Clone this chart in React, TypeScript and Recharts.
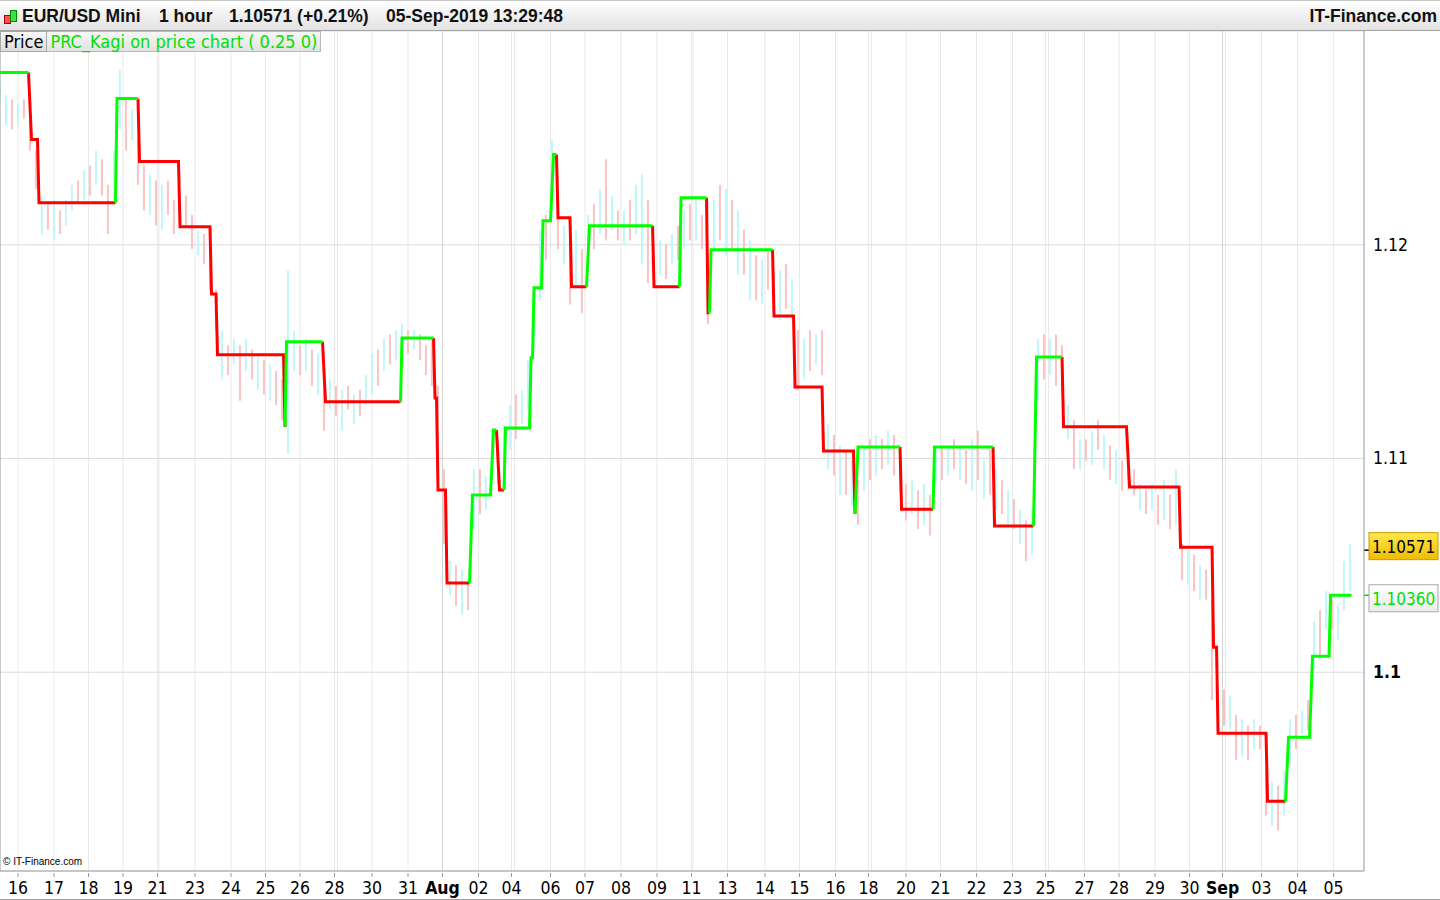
import React from 'react'
import { ComposedChart, Bar, Line, XAxis, YAxis, CartesianGrid, ReferenceLine } from 'recharts'

// EUR/USD Mini, 1 hour bars. x = hour index from the left edge of the plot.
const FONT = '"DejaVu Sans Condensed", "DejaVu Sans", sans-serif'
const HEAD_FONT = '"Liberation Sans", Arial, sans-serif'

// Kagi horizontal runs: first bar, last bar, level, rising (1 = green / yang)
const kagiStart = [0, 21, 26, 78, 93, 120, 141, 145, 190, 191, 217, 268, 290, 292, 298, 315, 329, 333, 337, 354, 356, 362, 369, 372, 381, 393, 436, 454, 472, 474, 516, 530, 549, 570, 572, 601, 623, 663, 691, 709, 753, 787, 809, 812, 845, 859, 875, 887]
const kagiEnd = [19, 25, 77, 92, 119, 140, 144, 189, 190, 215, 267, 289, 291, 297, 313, 327, 331, 336, 353, 355, 361, 367, 371, 380, 391, 435, 453, 471, 473, 515, 529, 548, 569, 570, 600, 622, 662, 689, 708, 751, 786, 808, 811, 844, 857, 873, 886, 901]
const kagiLevel = [1.12806, 1.12492, 1.12197, 1.12684, 1.12389, 1.12084, 1.1177, 1.11485, 1.11148, 1.11546, 1.11265, 1.11564, 1.11283, 1.10852, 1.10417, 1.10829, 1.11133, 1.10852, 1.11143, 1.11471, 1.11799, 1.12112, 1.12422, 1.12126, 1.11803, 1.12089, 1.11803, 1.1222, 1.11682, 1.11977, 1.11667, 1.11335, 1.11035, 1.1074, 1.11054, 1.10763, 1.11054, 1.10684, 1.11475, 1.11148, 1.10867, 1.10585, 1.10117, 1.09714, 1.09396, 1.09696, 1.10075, 1.1036]
const kagiUp = [1, 0, 0, 1, 0, 0, 0, 0, 0, 1, 0, 1, 0, 0, 0, 1, 1, 0, 1, 1, 1, 1, 1, 0, 0, 1, 0, 1, 0, 1, 0, 0, 0, 0, 1, 0, 1, 0, 1, 0, 0, 0, 0, 0, 0, 1, 1, 1]

// background price bars, one per 4 hours: high, low, direction (1 = up)
const CANDLE_STEP = 4
const candleHigh = [
  1.1277, 1.127, 1.1268, 1.1266, 1.1268, 1.1259, 1.1244, 1.1223, 1.1219, 1.1221, 1.1216, 1.1221, 1.1228, 1.123, 1.1235, 1.1237, 1.1244, 1.124, 1.1228, 1.1244,
  1.1282, 1.1268, 1.1263, 1.1249, 1.1237, 1.1233, 1.123, 1.1228, 1.123, 1.1221, 1.1221, 1.1223, 1.1214, 1.1207, 1.1205, 1.1198, 1.1179, 1.116, 1.1153, 1.1156,
  1.1153, 1.1156, 1.1151, 1.1149, 1.1146, 1.1144, 1.1141, 1.1137, 1.1188, 1.116, 1.1153, 1.1156, 1.1151, 1.1149, 1.1146, 1.1137, 1.1134, 1.1132, 1.1134, 1.113,
  1.1132, 1.1139, 1.1149, 1.1151, 1.1156, 1.1158, 1.116, 1.1163, 1.116, 1.116, 1.1158, 1.1153, 1.1156, 1.1134, 1.1095, 1.1052, 1.105, 1.1048, 1.1043, 1.1095,
  1.1095, 1.1092, 1.1113, 1.1109, 1.1116, 1.1125, 1.113, 1.1132, 1.1146, 1.1179, 1.1207, 1.1214, 1.1249, 1.1216, 1.1209, 1.1202, 1.1207, 1.1198, 1.1214, 1.1219,
  1.1226, 1.124, 1.1223, 1.1216, 1.1216, 1.1221, 1.1228, 1.1233, 1.1221, 1.12, 1.1202, 1.12, 1.1205, 1.1209, 1.1216, 1.1219, 1.1221, 1.1214, 1.1193, 1.1221,
  1.1228, 1.1226, 1.1221, 1.1216, 1.1207, 1.1202, 1.1195, 1.1193, 1.1198, 1.1188, 1.1188, 1.1191, 1.1184, 1.116, 1.1156, 1.116, 1.1158, 1.116, 1.1116, 1.1111,
  1.1106, 1.1104, 1.1099, 1.109, 1.1106, 1.1109, 1.1111, 1.1109, 1.1113, 1.1111, 1.1104, 1.1088, 1.109, 1.1085, 1.1088, 1.1083, 1.1104, 1.1106, 1.1104, 1.1109,
  1.1106, 1.1104, 1.1109, 1.1113, 1.1099, 1.1104, 1.1095, 1.109, 1.1085, 1.1081, 1.1076, 1.1071, 1.1076, 1.1156, 1.1158, 1.1156, 1.1158, 1.1153, 1.1125, 1.1118,
  1.1109, 1.1109, 1.1113, 1.1118, 1.1111, 1.1106, 1.1104, 1.1099, 1.1099, 1.1095, 1.1088, 1.1085, 1.1088, 1.1083, 1.109, 1.1083, 1.1095, 1.106, 1.1057, 1.1055,
  1.105, 1.1048, 1.1034, 1.0994, 1.0992, 1.0989, 1.098, 1.0978, 1.0975, 1.0978, 1.0975, 1.0954, 1.0949, 1.0947, 1.0954, 1.0978, 1.098, 1.0982, 1.0987, 1.1024,
  1.1029, 1.1038, 1.1034, 1.1031, 1.1052, 1.106,
]
const candleLow = [
  1.1266, 1.1256, 1.1254, 1.1256, 1.1259, 1.1244, 1.1226, 1.1205, 1.1207, 1.1202, 1.1205, 1.1209, 1.1216, 1.1219, 1.1221, 1.1223, 1.1228, 1.1223, 1.1205, 1.1221,
  1.1254, 1.1244, 1.1249, 1.1228, 1.1216, 1.1214, 1.1209, 1.1207, 1.1214, 1.1205, 1.1207, 1.1209, 1.1198, 1.1195, 1.1191, 1.1179, 1.116, 1.1137, 1.1139, 1.1144,
  1.1127, 1.1141, 1.1137, 1.1132, 1.113, 1.1127, 1.1125, 1.1118, 1.1102, 1.1141, 1.1139, 1.1141, 1.1134, 1.113, 1.1113, 1.1123, 1.112, 1.1113, 1.1123, 1.1116,
  1.112, 1.1125, 1.113, 1.1134, 1.1141, 1.1144, 1.1146, 1.1151, 1.1149, 1.1151, 1.1146, 1.1139, 1.1134, 1.1095, 1.106, 1.1036, 1.1031, 1.1027, 1.1029, 1.1067,
  1.1074, 1.1076, 1.109, 1.1088, 1.1097, 1.1104, 1.1109, 1.1116, 1.1123, 1.1151, 1.1174, 1.1193, 1.123, 1.1198, 1.1191, 1.1172, 1.1179, 1.1168, 1.1198, 1.1198,
  1.1205, 1.1202, 1.1207, 1.1202, 1.12, 1.1202, 1.1205, 1.1191, 1.1182, 1.1184, 1.1186, 1.1184, 1.1191, 1.1193, 1.1198, 1.1202, 1.1202, 1.1198, 1.1163, 1.1198,
  1.1202, 1.1195, 1.1198, 1.1186, 1.1186, 1.1174, 1.1174, 1.1172, 1.1179, 1.1167, 1.1165, 1.117, 1.1165, 1.1132, 1.1137, 1.1141, 1.1144, 1.1139, 1.1095, 1.1092,
  1.1083, 1.1083, 1.1078, 1.1069, 1.1085, 1.109, 1.1092, 1.1095, 1.1097, 1.1092, 1.1085, 1.1071, 1.1074, 1.1067, 1.1069, 1.1064, 1.1088, 1.109, 1.1092, 1.1095,
  1.109, 1.1088, 1.1085, 1.109, 1.1081, 1.1083, 1.1076, 1.1074, 1.1069, 1.1067, 1.106, 1.1052, 1.1055, 1.1127, 1.1137, 1.1139, 1.1134, 1.113, 1.1109, 1.1095,
  1.1095, 1.1099, 1.1097, 1.1104, 1.1095, 1.109, 1.1088, 1.1085, 1.1085, 1.1083, 1.1076, 1.1074, 1.1076, 1.1069, 1.1071, 1.1067, 1.1069, 1.1043, 1.1041, 1.1038,
  1.1034, 1.1034, 1.0987, 1.0973, 1.0975, 1.0973, 1.0959, 1.0961, 1.0959, 1.0964, 1.0964, 1.0933, 1.0928, 1.0926, 1.0933, 1.0957, 1.0964, 1.0971, 1.0973, 1.1001,
  1.1006, 1.102, 1.102, 1.1015, 1.1029, 1.1038,
]
const candleUp = [
  1, 1, 0, 1, 0, 0, 0, 1, 0, 1, 0, 1, 1, 0, 1, 0, 1, 0, 0, 1,
  1, 0, 1, 0, 0, 1, 0, 1, 0, 0, 1, 0, 0, 1, 0, 0, 0, 1, 0, 1,
  0, 1, 0, 1, 0, 1, 0, 0, 1, 1, 0, 1, 0, 1, 0, 1, 0, 1, 0, 1,
  0, 1, 1, 0, 1, 0, 1, 1, 0, 1, 0, 0, 0, 0, 0, 1, 0, 1, 0, 1,
  0, 1, 1, 0, 1, 1, 0, 1, 1, 1, 1, 0, 1, 0, 1, 0, 1, 0, 1, 0,
  1, 0, 1, 0, 1, 0, 1, 1, 0, 0, 1, 0, 1, 0, 1, 0, 1, 0, 0, 1,
  0, 1, 0, 1, 0, 1, 0, 1, 0, 0, 1, 0, 1, 0, 1, 0, 1, 0, 1, 0,
  1, 0, 1, 0, 1, 0, 1, 0, 1, 0, 1, 0, 1, 0, 1, 0, 1, 0, 1, 0,
  1, 0, 1, 0, 1, 0, 1, 0, 1, 0, 1, 0, 1, 1, 0, 1, 0, 0, 1, 0,
  1, 0, 1, 0, 1, 0, 1, 0, 1, 0, 1, 0, 1, 0, 1, 0, 1, 0, 1, 0,
  1, 0, 0, 1, 0, 1, 0, 1, 0, 1, 0, 0, 1, 0, 1, 1, 0, 1, 0, 1,
  0, 1, 0, 1, 1, 1,
]

// day separators (hour index) and their labels; '' = separator without a label
const dayTicks = [12, 36, 59, 82, 105, 106, 130, 154, 177, 200, 223, 225, 248, 272, 295, 319, 341, 343, 367, 390, 414, 438, 461, 462, 485, 510, 533, 557, 579, 581, 604, 627, 651, 675, 697, 699, 723, 746, 770, 793, 815, 817, 841, 865, 889]
const dayLabels = ['16', '17', '18', '19', '21', '', '23', '24', '25', '26', '28', '', '30', '31', 'Aug', '02', '04', '', '06', '07', '08', '09', '11', '', '13', '14', '15', '16', '18', '', '20', '21', '22', '23', '25', '', '27', '28', '29', '30', 'Sep', '', '03', '04', '05']
const monthTicks = [295, 815]
const priceTicks = [1.1, 1.11, 1.12]

const lastPrice = 1.10571
const kagiLast = 1.1036

type Pt = { t: number; p: number | null }

function kagiPath(up: number): Pt[] {
  const pts: Pt[] = []
  kagiLevel.forEach((level, i) => {
    if (kagiUp[i] !== up) return
    if (i > 0 && kagiUp[i - 1] !== up) {
      if (pts.length) pts.push({ t: kagiEnd[i - 1], p: null })
      pts.push({ t: kagiEnd[i - 1], p: kagiLevel[i - 1] })
    }
    pts.push({ t: kagiStart[i], p: level }, { t: kagiEnd[i], p: level })
  })
  return pts
}

// thin high-low stick, centred on the bar slot
function Stick(props: any) {
  const { x, y, width, height, payload } = props
  if (height == null || isNaN(y)) return null
  return <rect x={x + width / 2 - 1} y={y} width={2} height={Math.max(height, 1)} fill={payload.up ? '#c2f7f9' : '#fbc3c3'} />
}

function DayTick(props: any) {
  const { x, y, payload } = props
  const label = dayLabels[dayTicks.indexOf(payload.value)]
  if (!label) return null
  const month = label === 'Aug' || label === 'Sep'
  return (
    <g>
      <line x1={x} x2={x} y1={y} y2={y + 4} stroke="#9a9a9a" />
      <text x={x} y={y + 21} textAnchor="middle" fontSize={17.5} fontFamily={FONT} fontWeight={month ? 700 : 400} fill="#000">
        {label}
      </text>
    </g>
  )
}

function PriceTick(props: any) {
  const { x, y, payload } = props
  return (
    <text x={x + 7} y={y + 6} fontSize={17.5} fontFamily={FONT} fontWeight={payload.value === 1.1 ? 700 : 400} fill="#000">
      {String(payload.value)}
    </text>
  )
}

function PriceTag(props: any) {
  const { viewBox, text, color, top, bottom, border, id, shift } = props
  const edge = viewBox.x + viewBox.width
  const y = viewBox.y
  const cy = y + shift
  return (
    <g>
      <defs>
        <linearGradient id={id} x1="0" y1="0" x2="0" y2="1">
          <stop offset="0%" stopColor={top} />
          <stop offset="100%" stopColor={bottom} />
        </linearGradient>
      </defs>
      <line x1={edge} x2={edge + 5} y1={y} y2={y} stroke={color} strokeWidth={1.5} />
      <rect x={edge + 5} y={cy - 13.5} width={69} height={27} fill={`url(#${id})`} stroke={border} />
      <text x={edge + 8} y={cy + 6.5} fontSize={17} fontFamily={FONT} fill={color}>
        {text}
      </text>
    </g>
  )
}

export default function App() {
  const candles = candleHigh.map((hi, i) => ({ t: i * CANDLE_STEP, range: [candleLow[i], hi], up: candleUp[i] }))
  const redPts = kagiPath(0)
  const greenPts = kagiPath(1)

  const headText: React.CSSProperties = { position: 'absolute', top: 0, lineHeight: '30px', fontWeight: 700, fontSize: 17.5, fontFamily: HEAD_FONT, color: '#111' }

  return (
    <div style={{ position: 'relative', width: 1440, height: 900, background: '#fff', overflow: 'hidden', fontFamily: FONT }}>
      <style>{'body{margin:0}'}</style>
      <ComposedChart width={1440} height={900} data={candles} margin={{ top: 31, right: 0, bottom: 0, left: 0 }}>
        <CartesianGrid horizontal={false} stroke="#e9e9e9" />
        <CartesianGrid vertical={false} stroke="#dcdcdc" />
        <XAxis
          dataKey="t"
          type="number"
          domain={[0, 909.3]}
          ticks={dayTicks}
          interval={0}
          height={29}
          allowDataOverflow
          axisLine={{ stroke: '#a0a0a0' }}
          tickLine={false}
          tickSize={0}
          tick={<DayTick />}
        />
        <YAxis
          orientation="right"
          width={76}
          domain={[1.0907, 1.13]}
          ticks={priceTicks}
          allowDataOverflow
          axisLine={{ stroke: '#a0a0a0' }}
          tickLine={false}
          tickSize={0}
          tick={<PriceTick />}
        />
        {monthTicks.map((m) => (
          <ReferenceLine key={m} x={m} stroke="#d2d2d2" />
        ))}
        <ReferenceLine x={0} stroke="#a0a0a0" />
        <Bar dataKey="range" barSize={3} shape={<Stick />} isAnimationActive={false} />
        <Line data={redPts} dataKey="p" stroke="#ff0000" strokeWidth={3} dot={false} activeDot={false} connectNulls={false} isAnimationActive={false} />
        <Line data={greenPts} dataKey="p" stroke="#00ff00" strokeWidth={3} dot={false} activeDot={false} connectNulls={false} isAnimationActive={false} />
        <ReferenceLine
          y={lastPrice}
          strokeOpacity={0}
          label={<PriceTag text="1.10571" color="#000" top="#ffe84d" bottom="#f0bc00" border="#c99a00" id="tagLast" shift={-4} />}
        />
        <ReferenceLine
          y={kagiLast}
          strokeOpacity={0}
          label={<PriceTag text="1.10360" color="#00e000" top="#ffffff" bottom="#ececec" border="#a8a8a8" id="tagKagi" shift={3} />}
        />
      </ComposedChart>

      {/* title bar */}
      <div style={{ position: 'absolute', left: 0, top: 0, width: 1440, height: 31, boxSizing: 'border-box', background: 'linear-gradient(#ffffff, #e2e2e2)', borderTop: '1px solid #c4c4c4', borderBottom: '1px solid #a4a4a4' }}>
        <div style={{ position: 'absolute', left: 4, top: 14, width: 5, height: 7, background: '#ff5050', border: '1px solid #a00' }} />
        <div style={{ position: 'absolute', left: 10, top: 9, width: 5, height: 10, background: '#40e040', border: '1px solid #080' }} />
        <span style={{ ...headText, left: 22 }}>EUR/USD Mini</span>
        <span style={{ ...headText, left: 159 }}>1 hour</span>
        <span style={{ ...headText, left: 229 }}>1.10571 (+0.21%)</span>
        <span style={{ ...headText, left: 386 }}>05-Sep-2019 13:29:48</span>
        <span style={{ ...headText, right: 3 }}>IT-Finance.com</span>
      </div>

      {/* indicator legend */}
      <div style={{ position: 'absolute', left: 0, top: 31, height: 21, display: 'flex', fontSize: 18, lineHeight: '20px' }}>
        <div style={{ padding: '0 3px', background: 'linear-gradient(#f7f7f7, #dcdcdc)', border: '1px solid #a8a8a8', color: '#000' }}>Price</div>
        <div style={{ padding: '0 3px', background: 'linear-gradient(#f7f7f7, #e2e2e2)', border: '1px solid #b8b8b8', borderLeft: 'none', color: '#00e000' }}>
          PRC_Kagi on price chart ( 0.25 0)
        </div>
      </div>

      <div style={{ position: 'absolute', left: 3, top: 856, fontSize: 10, fontFamily: HEAD_FONT, color: '#000' }}>© IT-Finance.com</div>
      <div style={{ position: 'absolute', left: 0, top: 899, width: 1440, height: 1, background: '#a0a0a0' }} />
    </div>
  )
}
